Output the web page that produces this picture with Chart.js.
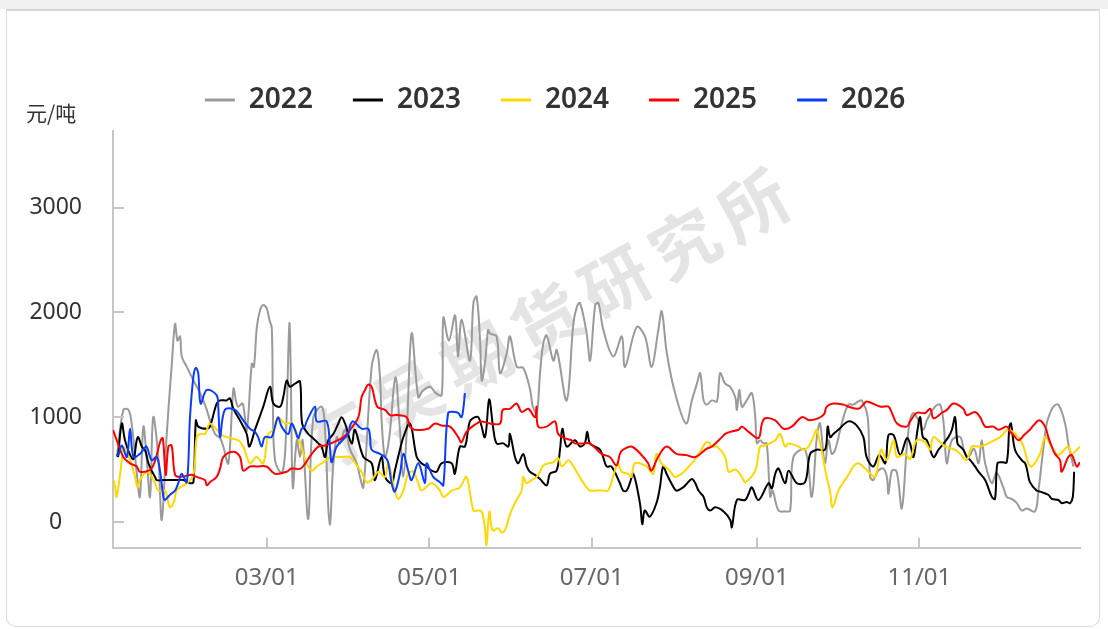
<!DOCTYPE html>
<html>
<head>
<meta charset="utf-8">
<script src="https://cdn.jsdelivr.net/npm/chart.js@4.4.1/dist/chart.umd.min.js"></script>
<style>
  html, body { margin: 0; padding: 0; width: 1108px; height: 629px; overflow: hidden; background: #fff; }
  #band { position: absolute; left: 0; top: 0; width: 1108px; height: 9px; background: #f0f0f0; }
  #card { position: absolute; left: 6px; top: 9px; width: 1094px; height: 618px; box-sizing: border-box;
          border: 1.5px solid #dcdcdc; border-top: 2px solid #d6d6d6; border-radius: 0 0 10px 10px; background: #fff; }
  #wrap { position: absolute; left: 0; top: 0; width: 1108px; height: 629px; }
</style>
</head>
<body>
<div id="band"></div>
<div id="card"></div>
<div id="wrap"><canvas id="c" width="1108" height="629"></canvas></div>
<script>
// Day-of-year axis (0 = Jan 1)
const xTickDays   = [59, 120, 181, 243, 304];
const xTickLabels = ['03/01', '05/01', '07/01', '09/01', '11/01'];
const yTickValues = [0, 1000, 2000, 3000];
const unitLabel   = '元/吨';
const seriesNames = ['2022', '2023', '2024', '2025', '2026'];

const days2022 = [2.7,5.2,7.1,8.3,10.2,11.4,12.7,14,15.2,16.4,18.3,19.6,21.5,23.3,24.6,25.5,26.5,27.1,29,31.5,34,35.2,36.5,37.7,39.6,41.5,42.7,44.6,46.5,47.5,48.3,50,51.5,53.4,54.2,55.3,56.5,57.7,59,60,60.9,61.3,62.1,64.6,66,67.5,68,68.8,70.3,71.5,72.5,74.6,76.5,79.7,80.9,82.1,82.8,84,85.3,86.5,88.4,90.3,92.8,94,95.3,98.4,100.3,101.5,102.2,103.4,105,107.3,109,110.3,111.6,113.4,115.9,117.5,120.3,122.5,124.7,125.3,127.4,129.7,130.8,132.2,135.3,136.6,137.8,139.1,139.7,140.9,142.1,142.8,145.3,146.6,149.1,150.3,152.9,155.3,157.9,158.9,160.4,161.6,162.8,164.1,166.6,167.9,171.6,174.1,175.4,176.6,179.1,180.4,182.3,183.5,185.4,189.1,192.3,193.5,197.9,201,203.5,206,207.3,209.2,212.3,216.4,218.6,220.5,221.7,223,224.2,226.1,228,229.2,231.1,233,234.9,235.5,236.4,237.4,239.2,241.1,242.4,243,244.2,245.5,246.7,248,248.9,251.1,253.6,255.5,256.7,261.1,263.6,265.5,266.7,268.5,269.9,271.1,272.4,275.5,277.4,279.2,281.1,282.4,284.6,285.5,286.7,288.6,290.5,291.8,292.4,293.7,295.5,297.4,299.3,300.5,301.8,304,305.5,306.8,309.9,311.8,313.1,314.3,316.2,319.3,320.8,322.4,324.5,326.2,327.4,328.7,331.2,333,335.5,336.8,338.7,340.6,342.4,344.3,347.4,348.7,350.5,351.8,353.1,354.3,356.2,358.7,359.9,361.8];
const vals2022 = [620,1070,1070,940,470,240,910,590,240,1000,620,20,850,1480,1890,1730,1770,1580,1480,1350,1230,1160,1070,970,840,800,720,560,1270,1150,1100,1130,870,1510,1480,1860,2020,2070,2040,1930,1850,1160,590,470,700,1890,1480,330,780,620,780,30,1000,1100,880,140,-20,560,810,750,880,690,560,430,330,1480,1640,1390,940,620,800,1380,880,430,880,1800,1190,1250,1290,1230,1210,1950,1730,1970,1580,1930,1540,2090,2150,1730,1350,1510,1830,1800,1770,1420,1610,1770,1480,1470,1260,1100,1040,1420,1700,1780,1540,1640,1160,1890,2050,2090,1800,1540,2070,2090,1830,1580,1770,1480,1860,1770,1480,1830,2010,1610,1230,940,1160,1320,1420,1160,1120,1160,1150,1420,1320,1290,1190,1070,1260,1100,1160,1230,1000,750,780,750,750,240,300,110,100,110,620,690,240,810,940,560,780,650,690,1000,1120,1120,1150,1160,1000,430,400,490,510,430,270,490,480,130,720,970,1040,950,880,970,1100,1120,940,560,780,810,680,620,700,560,780,560,370,470,330,240,220,180,110,130,100,300,690,940,1040,1100,1120,940,750,530];

const days2023 = [3.2,4.6,5.8,7.7,9,10.2,10.8,12.1,13.4,14.6,15.8,17.1,17.7,20.2,22.7,25.2,27.7,30.2,31.5,32.4,33.3,36.5,37.7,40.2,41.5,43.9,45.2,46.5,49.6,51.5,52.5,54.6,57.7,60.2,61.5,64,65.2,66.5,67.7,69.6,71.5,72.3,74.6,75.9,78.4,79.6,80.9,82.1,84,85.9,87.1,88.4,90.9,92.1,95.3,98.4,99.6,102.1,103.4,105.9,107.1,109,110.3,112.8,115.3,117.1,119,120.9,122.8,124.6,128.4,129.6,131.5,133.4,134.6,135.5,138.4,140.9,142.5,144.1,145.3,147.8,149.7,150.3,152.2,153.4,155.3,156.6,157.8,159.7,161.6,164.1,165.3,167.8,169.1,170,171.6,174.7,176.6,178.4,179.3,180.3,182.2,184.1,185.3,186.6,188.4,191.6,192.8,194.1,195.3,196.6,199.1,200,200.9,202.8,205.3,206.6,207.8,209.1,210.9,212.8,215.3,216.5,218.6,219.9,221.1,223,224.2,225.5,227.4,230.5,233,233.6,235.5,238.6,239.9,241.1,243.6,247.4,248.6,249.9,251.1,253.6,254.9,258,261.1,263,265.5,268.6,269.6,270.5,271.7,273.6,277.4,280.5,283,284.2,286.7,289,291.2,292.4,294.3,296.8,299.3,300.5,301.8,303.3,304.3,305.3,306.8,309.3,311.2,314.9,316.2,317.4,318.3,319.3,320.5,321.8,323.1,324.9,326.2,328.7,331.2,332.4,333.3,335,336.8,337.8,338.4,339.9,342.4,343.7,344.5,345.5,348,349.3,352.4,353.7,356.2,357.4,359.3,360.6,361.6,362.1];
const vals2023 = [620,940,780,640,600,780,810,720,680,560,490,430,400,400,400,400,400,370,380,970,910,890,910,1130,1160,1160,1180,1080,940,840,720,880,1100,1290,1130,1100,1190,1350,1290,1320,1340,940,840,810,750,720,620,780,840,940,1000,940,750,880,620,560,400,620,430,370,490,690,810,940,620,560,530,490,480,560,560,460,720,720,880,970,1000,810,1170,880,750,750,720,840,620,560,650,530,480,450,410,350,460,490,690,890,720,780,720,750,860,750,720,690,620,530,530,370,300,300,370,460,180,-20,110,50,180,330,530,460,370,300,330,360,410,370,300,240,140,110,140,100,20,-50,210,210,270,330,210,370,320,460,510,370,490,370,380,650,690,690,910,810,840,880,960,920,810,620,530,640,560,830,830,640,800,750,620,880,1000,810,780,620,690,810,880,1000,750,720,690,620,590,530,480,400,240,220,560,570,570,910,940,690,590,560,490,380,300,290,260,220,210,180,190,180,240,480];

const days2024 = [1.5,2.1,2.7,4.6,5.2,7.7,9.6,10.5,11.4,14,15.8,17.1,18.3,20.8,22.1,22.7,24,25.2,26.5,29,31.5,32.7,34,35.9,37.7,42.1,44,48.3,50.2,52.7,55.2,57.7,59.6,61.5,63.3,65.8,68.3,70.8,72.2,74,75.9,77.8,79.6,83.4,87.1,90.3,92.8,94.6,96.5,98.4,100.9,103.4,104.6,107.1,108.4,110.3,112.1,114,115.9,117.1,120.9,124,125.3,127.1,128.4,131.5,134,136.6,138.4,139.7,140.9,141.5,142.6,143.8,145.9,147.2,148.4,149.7,150.9,152.8,154.7,155.3,156.6,158.4,160.3,161.6,162.8,164.7,166.6,168.4,169.7,172.2,173.4,175.3,177.2,179.1,180.3,182.8,185.3,187.2,189.7,190.9,192.2,194.7,195.9,197.2,201.6,204.1,205.3,207.2,210.3,212.2,214.7,216.4,220.5,223.6,224.9,226.1,228,231.1,232.4,235,237.4,238.6,242.4,244.2,246.1,249.9,251.7,253.6,254.9,258.6,260.5,262.4,264.2,265.5,269.2,270.5,271.4,273.6,275.5,277.4,279.2,281.1,284.9,287.4,289.6,291.8,294.3,295.6,298.7,300.5,303,306.2,308.1,309.3,313.7,317.4,319.3,321.8,323.7,326.8,330.6,334.3,337.4,341.2,343.1,344.9,346.2,349.3,351.2,354.3,356.2,359.9,361.2,364.3];
const vals2024 = [400,330,240,590,720,590,430,330,400,480,430,370,300,300,180,140,180,300,330,370,450,810,840,840,940,830,810,780,720,560,620,560,840,880,1000,940,940,810,700,560,490,530,560,620,620,620,540,480,380,400,480,430,560,300,220,300,460,480,370,300,370,300,240,270,300,330,430,110,110,100,-50,-220,100,-80,-60,-100,-80,20,110,210,300,430,370,400,430,480,540,560,570,610,530,590,560,480,400,330,300,300,300,300,490,560,480,460,430,560,530,460,650,560,490,430,460,500,620,750,760,720,720,620,480,500,430,380,490,720,730,780,840,720,750,720,690,720,810,880,430,290,140,300,380,450,530,560,480,430,690,590,780,620,650,600,780,760,690,810,720,690,650,590,720,720,760,810,880,810,720,560,530,650,810,690,640,720,650,720];

const days2025 = [1.3,2.7,5.2,7.7,10.2,11.4,15.8,19.2,20,21.1,22.1,23.3,24.6,26.5,30.8,32.7,35.8,36.5,37.7,40.2,41.5,42.7,46.5,49,50.2,52.7,55.2,58.9,62.1,66.5,68.3,71.8,75.9,78.4,80.9,84,87.8,90.3,93.4,94.6,95.9,97.1,98.4,100.5,103.4,105.3,107.8,111.5,112.8,114.6,119.6,122.1,124.6,127.8,130.9,132.1,134,137.8,139.6,142.8,146.6,147.6,150.3,152.8,154.7,157.2,159.7,160.3,160.9,164.1,167.2,168.4,170.9,173.4,174.7,177.8,180.3,184.7,187.8,190.3,191.6,192.8,195.9,199.7,202.2,203.4,205.9,209.1,212.8,216.4,219.9,224.2,226.1,229.9,231.1,233,236.1,237.4,239.9,243.6,244.9,246.1,249.9,253,256.1,259.9,263,268,269.2,271.7,275.5,277.4,281.1,283,284.2,289.5,292.4,293.7,295.6,299.3,300.5,303,306.2,308.1,309.3,312.4,314.3,316.8,320.5,321.8,324.9,326.8,328.7,331.8,333.7,336.8,338.1,339.3,341.2,343.7,345.5,346.8,349,351.2,352.4,353.7,354.9,356.8,357.4,359.9,361.2,363.1,364.3];
const vals2025 = [880,780,620,560,530,480,510,780,800,450,720,730,450,430,450,430,400,350,380,430,510,620,670,620,490,530,530,530,460,480,510,510,650,720,730,760,810,880,1000,1190,1260,1310,1290,1100,1070,1020,1020,1000,910,880,890,940,920,910,810,760,860,940,960,940,940,1070,1080,1130,1050,1080,1000,1100,910,910,960,840,800,780,750,750,750,650,620,540,650,690,720,640,560,490,620,720,650,640,620,700,720,810,840,860,880,910,860,800,940,990,970,890,910,1000,970,1020,1100,1130,1120,1100,1080,1120,1150,1100,1100,1040,940,910,960,1040,1040,1080,990,1040,1070,1130,1080,1020,1050,1000,910,910,880,910,860,830,780,840,880,920,970,910,810,720,650,590,480,620,640,530,570];

const days2026 = [2.5,3.3,4.6,6.5,7.7,9,11.4,12.7,13.9,15.8,17.7,19,20.2,20.8,22.7,24.6,25.8,27.1,29,30.2,31.5,32.4,33.3,34.2,36.5,40.2,40.8,41.5,43.3,47.1,50.2,52.7,54.6,55.8,57.1,58.3,60.8,62.1,63.3,64.6,67.1,68.3,69.6,70.8,72.1,73.3,74,77.1,77.8,81.5,82.8,83.4,85.3,89.6,90.3,91.5,94.6,97.1,97.8,98.4,101.5,103.4,104.6,105.9,107.1,109,110.3,112.1,113.4,115.9,118.4,119,121.5,124,125.3,127.1,129.6,130.9,132.1,132.8,133.4];
const vals2026 = [640,640,730,620,890,620,650,690,720,590,620,480,240,210,260,300,370,460,380,1000,1390,1470,1420,1130,1260,1210,1100,810,1070,1070,970,890,860,810,720,810,810,910,1000,910,840,940,880,800,890,910,960,1100,960,960,690,570,720,840,920,960,890,890,810,690,650,620,570,370,290,460,650,490,400,560,370,560,430,380,350,1040,1050,1040,1000,1080,1230];

const seriesDays   = [days2022, days2023, days2024, days2025, days2026];
const seriesValues = [vals2022, vals2023, vals2024, vals2025, vals2026];
const seriesColors = ['#9a9a9a', '#000000', '#ffd800', '#ff0000', '#0a3cff'];

const toPoints = (days, vals) => days.map((d, i) => ({ x: d, y: vals[i] }));

const datasets = seriesNames.map((name, i) => ({
  label: name,
  data: toPoints(seriesDays[i], seriesValues[i]),
  borderColor: seriesColors[i],
  backgroundColor: seriesColors[i],
  borderWidth: 2,
  pointRadius: 0,
  pointHoverRadius: 0,
  tension: 0.35,
  order: seriesNames.length - i   // later years drawn on top
}));

// Faint diagonal watermark behind the lines
const watermark = {
  id: 'watermark',
  beforeDatasetsDraw(chart) {
    const ctx = chart.ctx;
    const text = '东吴期货研究所';
    const angle = -29 * Math.PI / 180;
    const step = 79, cx = 546, cy = 320;
    ctx.save();
    ctx.font = '600 68px "Noto Sans CJK SC"';
    ctx.fillStyle = 'rgba(195,195,195,0.45)';
    ctx.textAlign = 'center';
    ctx.textBaseline = 'middle';
    [...text].forEach((ch, i) => {
      const k = i - (text.length - 1) / 2;
      ctx.save();
      ctx.translate(cx + k * step * Math.cos(angle), cy + k * step * Math.sin(angle));
      ctx.rotate(angle);
      ctx.fillText(ch, 0, 0);
      ctx.restore();
    });
    ctx.restore();
  }
};

// Inward tick marks on both axes, plus the unit caption above the y axis
const axisDecor = {
  id: 'axisDecor',
  afterDraw(chart) {
    const { ctx, chartArea, scales } = chart;
    ctx.save();
    ctx.strokeStyle = '#c6c6c6';
    ctx.lineWidth = 2;
    ctx.beginPath();
    scales.x.ticks.forEach(t => {
      const px = Math.round(scales.x.getPixelForValue(t.value));
      ctx.moveTo(px, chartArea.bottom);
      ctx.lineTo(px, chartArea.bottom - 10);
    });
    scales.y.ticks.forEach(t => {
      const py = Math.round(scales.y.getPixelForValue(t.value));
      ctx.moveTo(chartArea.left, py);
      ctx.lineTo(chartArea.left + 11, py);
    });
    ctx.stroke();
    ctx.fillStyle = '#333';
    ctx.font = '21px "Noto Sans CJK SC"';
    ctx.textBaseline = 'middle';
    ctx.textAlign = 'left';
    ctx.fillText(unitLabel, 26, chartArea.top - 18);
    ctx.restore();
  }
};

new Chart(document.getElementById('c'), {
  type: 'line',
  data: { datasets },
  options: {
    responsive: false,
    animation: false,
    devicePixelRatio: 1,
    layout: { padding: { top: 46, left: 30, right: 28, bottom: 20.5 } },
    plugins: {
      tooltip: { enabled: false },
      legend: {
        position: 'top',
        labels: {
          boxWidth: 30,
          boxHeight: 3,
          padding: 40,
          color: '#333',
          font: { family: '"Noto Sans", "Noto Sans CJK SC", sans-serif', size: 28, weight: '600' },
          sort: (a, b) => a.datasetIndex - b.datasetIndex,
          generateLabels(chart) {
            return Chart.defaults.plugins.legend.labels.generateLabels(chart).map(item => {
              const ds = chart.data.datasets[item.datasetIndex];
              return { ...item, fillStyle: ds.borderColor, strokeStyle: ds.borderColor, lineWidth: 0 };
            });
          }
        }
      },
      subtitle: {
        display: true,
        text: '',
        weight: 500,
        padding: 0,
        font: { size: 7, lineHeight: 1 }
      }
    },
    scales: {
      x: {
        type: 'linear',
        min: 1.3,
        max: 364.3,
        afterBuildTicks: scale => { scale.ticks = xTickDays.map(v => ({ value: v })); },
        grid: { display: false, drawTicks: false },
        border: { display: true, color: '#c6c6c6', width: 2 },
        ticks: {
          autoSkip: false,
          maxRotation: 0,
          padding: 16,
          color: '#666',
          font: { family: '"Noto Sans", sans-serif', size: 24 },
          callback: v => xTickLabels[xTickDays.indexOf(v)] ?? ''
        }
      },
      y: {
        type: 'linear',
        min: -245,
        max: 3730,
        afterBuildTicks: scale => { scale.ticks = yTickValues.map(v => ({ value: v })); },
        afterFit: scale => { scale.width = 83; },
        grid: { display: false, drawTicks: false },
        border: { display: true, color: '#c6c6c6', width: 2 },
        ticks: {
          padding: 31,
          crossAlign: 'center',
          color: '#333',
          font: { family: '"Noto Sans", sans-serif', size: 23 },
          callback: v => String(v)
        }
      }
    }
  },
  plugins: [watermark, axisDecor]
});
</script>
</body>
</html>
